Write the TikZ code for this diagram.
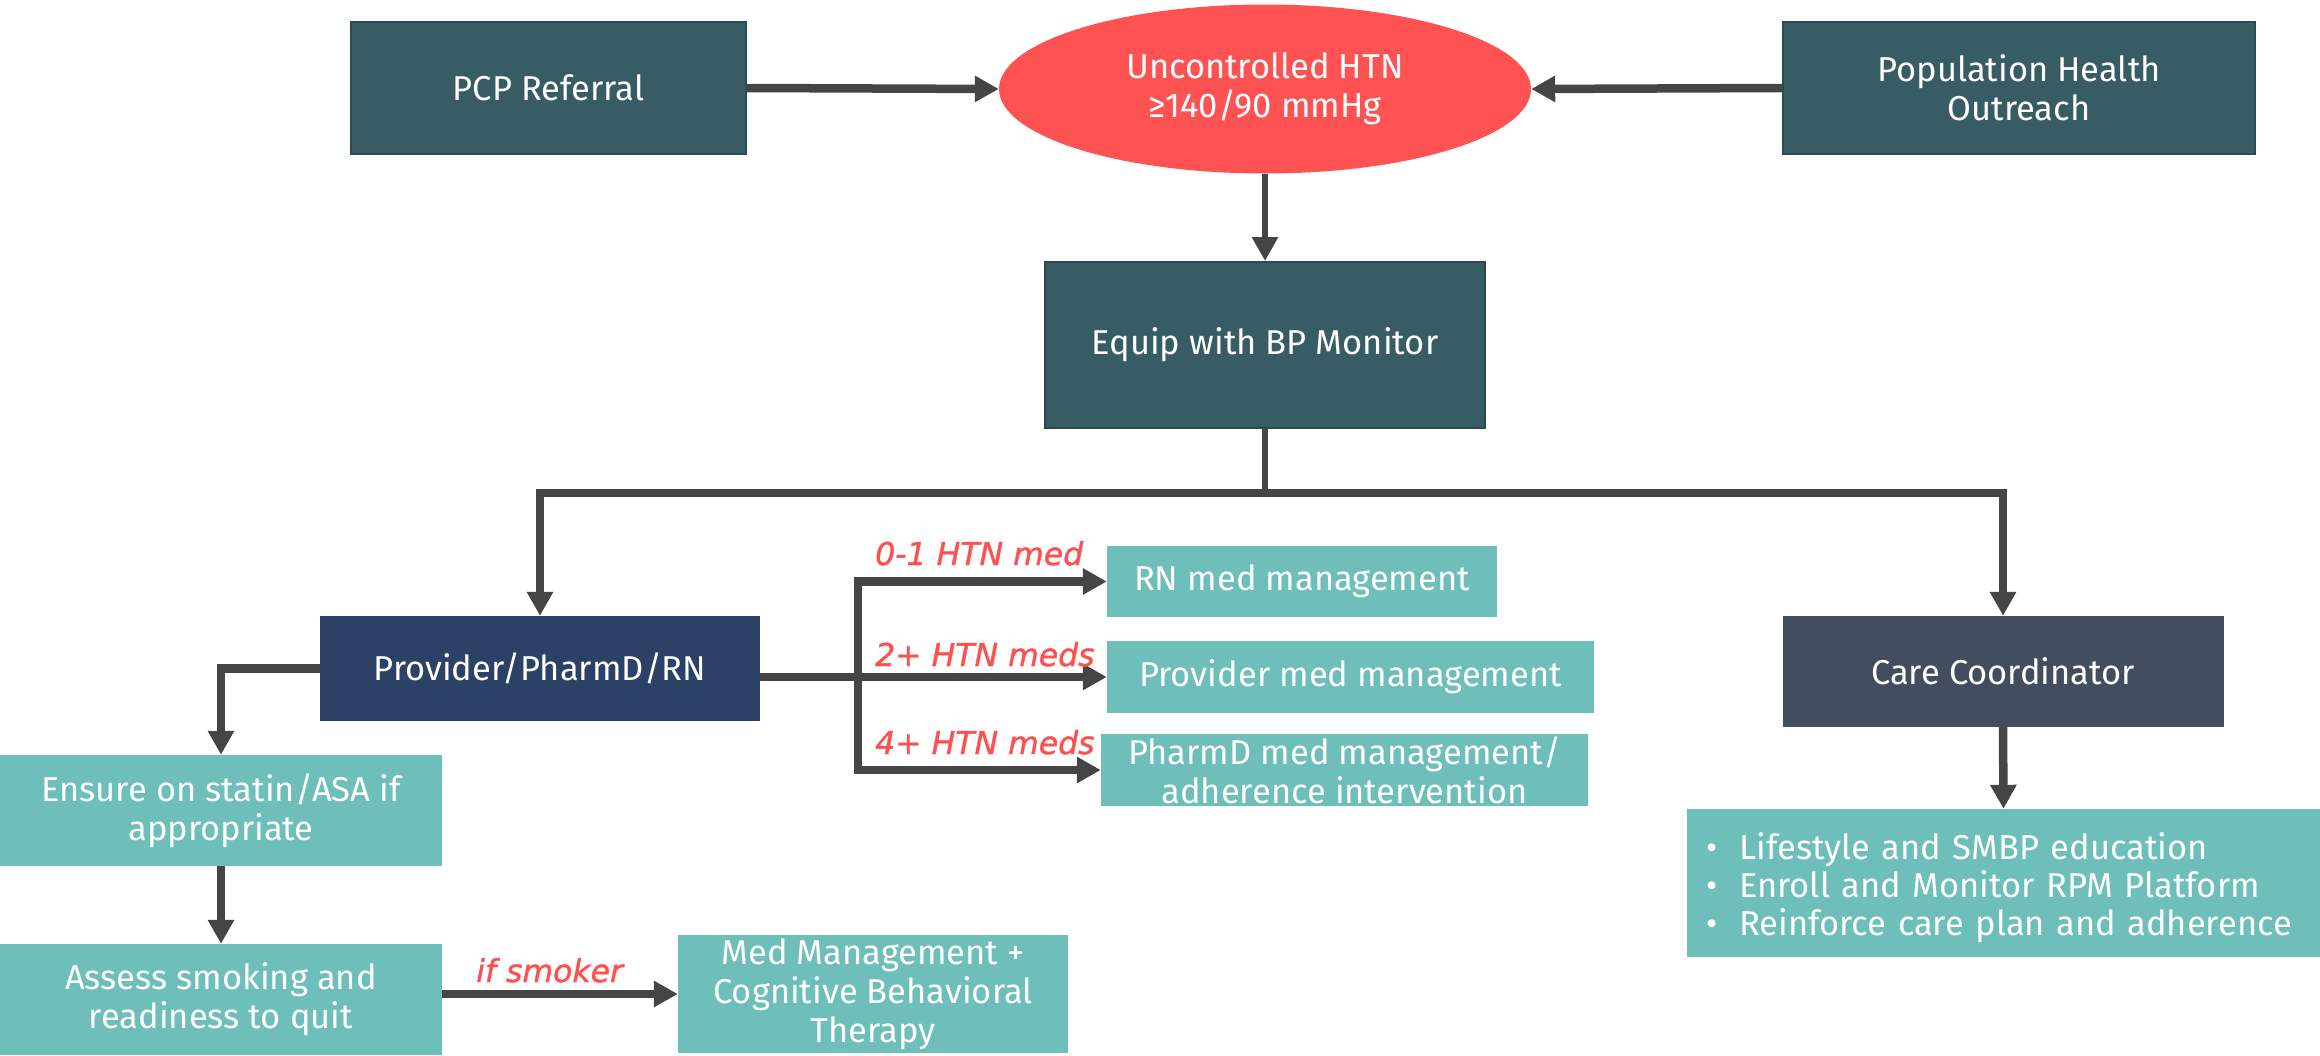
\documentclass[tikz,border=0pt]{standalone}
\usepackage{fontspec}
\setmainfont{Fira Sans}
\newfontfamily\lblfont[ItalicFeatures={FakeBold=1.2}]{DejaVu Sans}
\usetikzlibrary{arrows.meta,shapes.geometric}
\definecolor{darkteal}{HTML}{375C64}
\definecolor{darktealb}{HTML}{2B4A52}
\definecolor{htnred}{HTML}{FF5353}
\definecolor{navy}{HTML}{2B4266}
\definecolor{slate}{HTML}{424E5E}
\definecolor{lteal}{HTML}{6EBEB9}
\definecolor{arrgray}{HTML}{454545}
\definecolor{lblred}{HTML}{FF4F4F}
\tikzset{
  base/.style={text=white, align=center, inner sep=0pt,
    font=\fontsize{34.5}{39}\selectfont},
  darkbox/.style={base, rectangle, fill=darkteal, draw=darktealb, line width=2pt},
  navybox/.style={base, rectangle, fill=navy},
  slatebox/.style={base, rectangle, fill=slate},
  lightbox/.style={base, rectangle, fill=lteal},
  oval/.style={base, ellipse, fill=htnred},
  conn/.style={draw=arrgray, line width=8.5pt},
  arr/.style={conn, -{Triangle[length=24pt,width=25pt]}},
  lbl/.style={text=lblred, inner sep=0pt, anchor=base west,
    font=\lblfont\itshape\fontsize{31.5}{36}\selectfont}
}
\begin{document}
\begin{tikzpicture}[x=1pt,y=-1pt]
\useasboundingbox (0,0) rectangle (2320,1055);

% top row
\node[darkbox, minimum width=395pt, minimum height=132pt] (pcp) at (548.5,88) {PCP Referral};
\node[oval, minimum width=532pt, minimum height=169pt] (htn) at (1265,89) {Uncontrolled HTN\\≥140/90 mmHg};
\node[darkbox, minimum width=472pt, minimum height=132pt] (pop) at (2019,88) {Population Health\\Outreach};
\node[darkbox, minimum width=440pt, minimum height=166pt] (equip) at (1265,345) {Equip with BP Monitor};

% second level
\node[navybox, minimum width=440pt, minimum height=105pt] (prov) at (540,668.5) {Provider/PharmD/RN};
\node[slatebox, minimum width=441pt, minimum height=111pt] (care) at (2003,671.5) {Care Coordinator};
\node[lightbox, minimum width=633pt, minimum height=148pt, text width=595pt, inner xsep=19pt, align=left] (bul) at (2003.5,883)
  {\raisebox{-7pt}[\height][\depth]{\begin{tabular}{@{}l@{\hspace{22pt}}l@{}}•&Lifestyle and SMBP education\\[-1pt]•&Enroll and Monitor RPM Platform\\[-1pt]•&Reinforce care plan and adherence\end{tabular}}};

% med management boxes
\node[lightbox, minimum width=390pt, minimum height=71pt] (rn) at (1302,581.5) {RN med management};
\node[lightbox, minimum width=487pt, minimum height=72pt] (pm) at (1350.5,677) {Provider med management};
\node[lightbox, minimum width=487pt, minimum height=72pt] (ph) at (1344.5,770) {PharmD med management/\\adherence intervention};

% left column
\node[lightbox, minimum width=442pt, minimum height=111pt] (ens) at (221,810.5) {Ensure on statin/ASA if\\appropriate};
\node[lightbox, minimum width=442pt, minimum height=111pt] (ass) at (221,999.5) {Assess smoking and\\readiness to quit};
\node[lightbox, minimum width=390pt, minimum height=118pt] (med) at (873,994) {Med Management +\\Cognitive Behavioral\\Therapy};

% connectors top
\draw[arr] (pcp.east) -- (htn.west);
\draw[arr] (pop.west) -- (htn.east);
\draw[arr, line width=6.5pt] (htn.south) -- (equip.north);

\coordinate (busM) at (1265,493);
\draw[conn, line width=6.5pt] (equip.south) -- (busM);
\draw[arr] (busM) -| (prov.north);
\draw[arr] (busM) -| (care.north);
\draw[arr] (care.south) -- (bul.north);

% right branch
\coordinate (brT) at (858,581.5);
\coordinate (brB) at (858,770);
\draw[arr] (prov.east |- pm.west) -- (pm.west);
\draw[conn, line cap=rect] (brT) -- (brB);
\draw[arr] (brT) -- (rn.west);
\draw[arr] (brB) -- (ph.west);

% left branch
\draw[arr] (prov.west) -| (ens.north);
\draw[arr] (ens.south) -- (ass.north);
\draw[arr] (ass.east |- med.west) -- (med.west);

% labels
\node[lbl] (l1) at (875,565) {0-1 HTN med};
\node[lbl] (l2) at (875,666) {2+ HTN meds};
\node[lbl] (l3) at (875,754) {4+ HTN meds};
\node[lbl] (l4) at (476,982) {if smoker};
\end{tikzpicture}
\end{document}
